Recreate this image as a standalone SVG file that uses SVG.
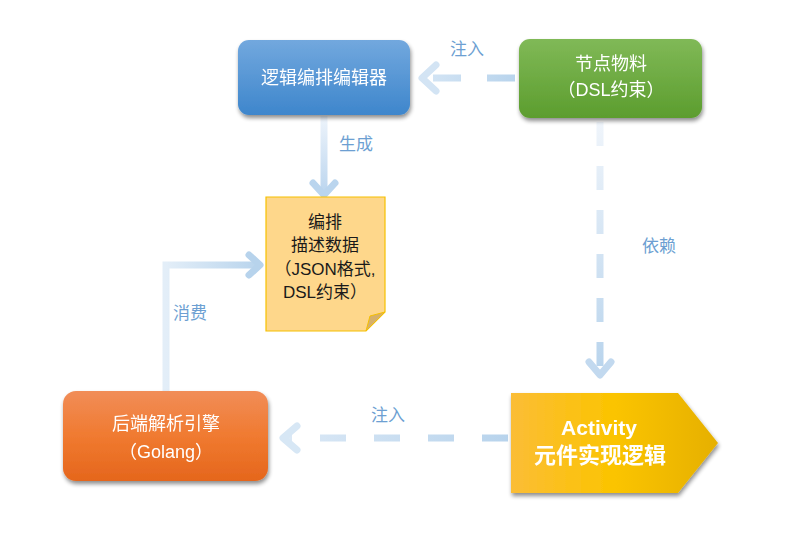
<svg xmlns="http://www.w3.org/2000/svg" width="787" height="533" viewBox="0 0 787 533">
<defs>
<style>
.lbl{font-family:"Liberation Sans","Noto Sans CJK SC",sans-serif;font-size:17px;fill:#6d9fd2;text-anchor:middle}
.wt{font-family:"Liberation Sans","Noto Sans CJK SC",sans-serif;font-size:18px;fill:#ffffff;text-anchor:middle}
.big{font-size:21px;font-weight:bold}
.big2{font-size:22px;font-weight:bold}
.bk{font-family:"Liberation Sans","Noto Sans CJK SC",sans-serif;font-size:17px;fill:#1a1a1a;text-anchor:middle}
.ln{fill:none;stroke-width:7}
.hd{fill:none;stroke-width:7;stroke-linecap:round;stroke-linejoin:round}
</style>
<filter id="sh" x="-10%" y="-10%" width="125%" height="135%">
<feGaussianBlur in="SourceAlpha" stdDeviation="2"/>
<feOffset dx="1" dy="3"/>
<feComponentTransfer><feFuncA type="linear" slope="0.45"/></feComponentTransfer>
<feMerge><feMergeNode/><feMergeNode in="SourceGraphic"/></feMerge>
</filter>
<linearGradient id="gBlue" x1="0" y1="0" x2="0" y2="1"><stop offset="0" stop-color="#72a8de"/><stop offset="1" stop-color="#3e86cc"/></linearGradient>
<linearGradient id="gGreen" x1="0" y1="0" x2="0" y2="1"><stop offset="0" stop-color="#80b957"/><stop offset="1" stop-color="#5c9d2e"/></linearGradient>
<linearGradient id="gOrange" x1="0" y1="0" x2="0" y2="1"><stop offset="0" stop-color="#f18d58"/><stop offset="0.5" stop-color="#f07a30"/><stop offset="1" stop-color="#e5661c"/></linearGradient>
<linearGradient id="gAct" x1="0" y1="0" x2="1" y2="0"><stop offset="0" stop-color="#fbbd36"/><stop offset="0.5" stop-color="#fbc400"/><stop offset="1" stop-color="#e6b000"/></linearGradient>
<linearGradient id="lnH1" gradientUnits="userSpaceOnUse" x1="519" y1="0" x2="418" y2="0"><stop offset="0" stop-color="#b7d3ec"/><stop offset="1" stop-color="#d6e6f5"/></linearGradient>
<linearGradient id="lnV1" gradientUnits="userSpaceOnUse" x1="0" y1="115" x2="0" y2="197"><stop offset="0" stop-color="#eef4fb"/><stop offset="1" stop-color="#b9d4ee"/></linearGradient>
<linearGradient id="lnV2" gradientUnits="userSpaceOnUse" x1="0" y1="120" x2="0" y2="378"><stop offset="0" stop-color="#f0f5fb"/><stop offset="1" stop-color="#b7d3ec"/></linearGradient>
<linearGradient id="lnH2" gradientUnits="userSpaceOnUse" x1="511" y1="0" x2="280" y2="0"><stop offset="0" stop-color="#b7d3ec"/><stop offset="1" stop-color="#dce9f6"/></linearGradient>
<linearGradient id="lnP" gradientUnits="userSpaceOnUse" x1="166" y1="0" x2="262" y2="0"><stop offset="0" stop-color="#e3eef8"/><stop offset="1" stop-color="#b7d3ec"/></linearGradient>
</defs>
<rect width="787" height="533" fill="#ffffff"/>

<g id="connectors">
<g id="c-green-blue">
<line class="ln" x1="515" y1="78" x2="428" y2="78" stroke="url(#lnH1)" stroke-dasharray="28 26"/>
<polyline class="hd" points="436,65 422,78 436,91" stroke="#d3e4f4"/>
<text class="lbl" x="467" y="55">注入</text>
</g>
<g id="c-blue-note">
<line class="ln" x1="324" y1="116" x2="324" y2="192" stroke="url(#lnV1)"/>
<polyline class="hd" points="313,183 324,195 335,183" stroke="#bad5ee"/>
<text class="lbl" x="356" y="150">生成</text>
</g>
<g id="c-green-act">
<line class="ln" x1="600" y1="122" x2="600" y2="372" stroke="url(#lnV2)" stroke-dasharray="24 20"/>
<polyline class="hd" points="589,362 600,375 611,362" stroke="#c2d9ef"/>
<text class="lbl" x="659" y="252">依赖</text>
</g>
<g id="c-act-orange">
<line class="ln" x1="508" y1="438" x2="288" y2="438" stroke="url(#lnH2)" stroke-dasharray="26 28"/>
<polyline class="hd" points="297,426 283,438 297,450" stroke="#d7e7f5"/>
<text class="lbl" x="388" y="421">注入</text>
</g>
<g id="c-orange-note">
<polyline class="ln" points="166,391 166,265 258,265" stroke="url(#lnP)"/>
<polyline class="hd" points="249,255 260,265 249,275" stroke="#b7d3ec"/>
<text class="lbl" x="190" y="319">消费</text>
</g>
</g>

<g id="n-editor" filter="url(#sh)">
<rect x="238" y="40" width="172" height="75" rx="11" fill="url(#gBlue)"/>
<text class="wt" x="324" y="84">逻辑编排编辑器</text>
</g>

<g id="n-material" filter="url(#sh)">
<rect x="519" y="39" width="183" height="79" rx="11" fill="url(#gGreen)"/>
<text class="wt" x="611" y="70">节点物料</text>
<text class="wt" x="611" y="96">（DSL约束）</text>
</g>

<g id="n-data">
<path d="M266,197 H385 V312 L366,331 H266 Z" fill="#fed78b" stroke="#f6c000" stroke-width="1.2"/>
<path d="M385,312 L366,331 L370,316 Z" fill="#d6b06a" stroke="#f6c000" stroke-width="1"/>
<text class="bk" x="325" y="228">编排</text>
<text class="bk" x="325" y="251">描述数据</text>
<text class="bk" x="325" y="275">（JSON格式,</text>
<text class="bk" x="325" y="298">DSL约束）</text>
</g>

<g id="n-engine" filter="url(#sh)">
<rect x="63" y="391" width="205" height="90" rx="13" fill="url(#gOrange)"/>
<text class="wt" x="166" y="430">后端解析引擎</text>
<text class="wt" x="166" y="458">（Golang）</text>
</g>

<g id="n-activity" filter="url(#sh)">
<path d="M511,393 H678 L718,443 L678,493 H511 Z" fill="url(#gAct)"/>
<text class="wt big" x="599" y="435">Activity</text>
<text class="wt big2" x="600" y="463">元件实现逻辑</text>
</g>
</svg>
